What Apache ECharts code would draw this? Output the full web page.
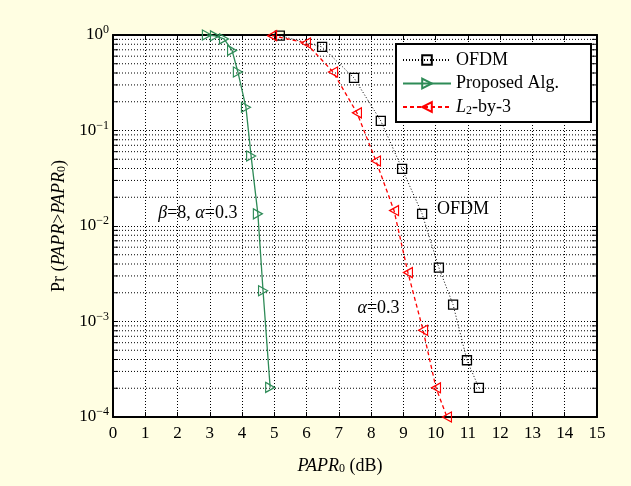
<!DOCTYPE html>
<html>
<head>
<meta charset="utf-8">
<script src="https://cdn.jsdelivr.net/npm/echarts@6/dist/echarts.min.js"></script>
<style>
  html, body { margin: 0; padding: 0; background: #fffee2; }
  #chart { width: 631px; height: 486px; }
</style>
</head>
<body>
<div id="chart"></div>
<script>
// CCDF of PAPR for plain OFDM, the proposed algorithm and the L2-by-3 scheme
const ofdmX = [5.17, 6.48, 7.47, 8.30, 8.96, 9.58, 10.10, 10.54, 10.97, 11.34];
const ofdmY = [0.985, 0.75, 0.355, 0.126, 0.0397, 0.0134, 0.00366, 0.0015, 0.000393, 0.000202];

const propX = [2.91, 3.16, 3.44, 3.69, 3.87, 4.12, 4.28, 4.49, 4.65, 4.87];
const propY = [1.0, 0.98, 0.91, 0.69, 0.41, 0.175, 0.054, 0.0134, 0.0021, 0.000204];

const l2X = [4.93, 5.98, 6.82, 7.56, 8.15, 8.71, 9.14, 9.61, 10.01, 10.35];
const l2Y = [0.985, 0.825, 0.41, 0.153, 0.048, 0.0145, 0.00325, 0.00081, 0.000202, 0.0001];

const seriesNames = ['OFDM', 'Proposed Alg.', 'L2-by-3'];

// axis ranges
const xMin = 0, xMax = 15, xStep = 1;
const yMin = 1e-4, yMax = 1;

// log-axis minor grid: 2..9 within every decade
const decades = [1e-4, 1e-3, 1e-2, 1e-1];
const mantissas = [2, 3, 4, 5, 6, 7, 8, 9];
const minorValues = [];
decades.forEach(d => mantissas.forEach(m => minorValues.push(m * d)));

// text annotations, anchored in data coordinates
const annotX = [2.63, 10.85, 8.23];
const annotY = [0.0137, 0.0148, 0.00136];
const annotText = [
  '{i|β}{r|=8, }{i|α}{r|=0.3}',
  '{r|OFDM}',
  '{i|α}{r|=0.3}'
];

const FONT = 'Liberation Serif, Times New Roman, serif';
const richText = {
  r: { fontFamily: FONT, fontSize: 18, color: '#000' },
  i: { fontFamily: FONT, fontSize: 18, fontStyle: 'italic', color: '#000' },
  sub: { fontFamily: FONT, fontSize: 12, color: '#000', verticalAlign: 'bottom', lineHeight: 16, padding: [6, 0, 0, 0] }
};

const zip = (xs, ys) => xs.map((x, i) => [x, ys[i]]);

const triRight = 'path://M0,0 L10,5 L0,10 Z';
const triLeft = 'path://M10,0 L0,5 L10,10 Z';

const chart = echarts.init(document.getElementById('chart'), null, { renderer: 'canvas' });

const gridLine = { show: true, lineStyle: { color: '#000', width: 1, type: [1, 2] } };

chart.setOption({
  backgroundColor: '#fffee2',
  animation: false,
  grid: {
    left: 113, top: 35, width: 484, height: 382,
    containLabel: false, outerBoundsMode: 'none',
    show: true, backgroundColor: '#fff', borderWidth: 0
  },
  legend: {
    show: true,
    orient: 'vertical',
    left: 396, top: 44,
    data: seriesNames,
    backgroundColor: '#fff',
    borderColor: '#000', borderWidth: 2, borderRadius: 0,
    padding: [6, 32, 5, 6],
    itemWidth: 48, itemHeight: 12, itemGap: 3.5,
    textStyle: { fontFamily: FONT, fontSize: 18, color: '#000', lineHeight: 20, rich: richText },
    formatter: name => name === 'L2-by-3' ? '{i|L}{sub|2}{r|-by-3}' : '{r|' + name + '}'
  },
  xAxis: [{
    type: 'value', min: xMin, max: xMax, interval: xStep,
    position: 'bottom',
    axisLine: { show: true, onZero: false, lineStyle: { color: '#000', width: 2 } },
    axisTick: { show: true, inside: true, length: 5, lineStyle: { color: '#000', width: 1 } },
    axisLabel: { show: true, margin: 8, fontFamily: FONT, fontSize: 17, color: '#000' },
    splitLine: gridLine,
    name: '{i|PAPR}{sub|0}{r| (dB)}',
    nameLocation: 'middle', nameGap: 40,
    nameTextStyle: { rich: richText, padding: [0, 30, 0, 0] }
  }, {
    type: 'value', min: xMin, max: xMax, interval: xStep,
    position: 'top',
    axisLine: { show: true, onZero: false, lineStyle: { color: '#000', width: 2 } },
    axisTick: { show: true, inside: true, length: 5, lineStyle: { color: '#000', width: 1 } },
    axisLabel: { show: false },
    splitLine: { show: false }
  }],
  yAxis: [{
    type: 'log', logBase: 10, min: yMin, max: yMax, splitNumber: 4,
    position: 'left',
    axisLine: { show: true, onZero: false, lineStyle: { color: '#000', width: 2 } },
    axisTick: { show: true, inside: true, length: 5, lineStyle: { color: '#000', width: 1 } },
    axisLabel: {
      show: true, margin: 4,
      formatter: v => {
        const e = Math.round(Math.log10(v));
        return '{b|10}{s|' + (e < 0 ? '\u2212' + (-e) : e) + '}';
      },
      rich: {
        b: { fontFamily: FONT, fontSize: 17, color: '#000', lineHeight: 22 },
        s: { fontFamily: FONT, fontSize: 12, color: '#000', verticalAlign: 'top', lineHeight: 12 }
      }
    },
    splitLine: gridLine,
    name: '{r|Pr (}{i|PAPR}{r|>}{i|PAPR}{sub|0}{r|)}',
    nameLocation: 'middle', nameGap: 39, nameRotate: 90,
    nameTextStyle: { rich: richText }
  }, {
    type: 'log', logBase: 10, min: yMin, max: yMax, splitNumber: 4,
    position: 'right',
    axisLine: { show: true, onZero: false, lineStyle: { color: '#000', width: 2 } },
    axisTick: { show: true, inside: true, length: 5, lineStyle: { color: '#000', width: 1 } },
    axisLabel: { show: false },
    splitLine: { show: false }
  }],
  series: [
    {
      // minor log grid lines with their inside tick marks
      type: 'custom',
      silent: true,
      z: 1,
      xAxisIndex: 0, yAxisIndex: 0,
      data: minorValues.map(v => [0, v]),
      renderItem: (params, api) => {
        const cs = params.coordSys;
        const y = api.coord([0, api.value(1)])[1];
        return {
          type: 'group',
          children: [
            { type: 'line', shape: { x1: cs.x, y1: y, x2: cs.x + cs.width, y2: y },
              style: { stroke: '#000', lineWidth: 1, lineDash: [1, 2] } },
            { type: 'line', shape: { x1: cs.x, y1: y, x2: cs.x + 5, y2: y },
              style: { stroke: '#000', lineWidth: 1 } },
            { type: 'line', shape: { x1: cs.x + cs.width - 5, y1: y, x2: cs.x + cs.width, y2: y },
              style: { stroke: '#000', lineWidth: 1 } }
          ]
        };
      }
    },
    {
      name: 'OFDM', type: 'line', z: 5, clip: false,
      data: zip(ofdmX, ofdmY),
      symbol: 'rect', symbolSize: 9, showAllSymbol: true,
      lineStyle: { color: '#000', width: 1, type: [1, 2] },
      itemStyle: { color: 'rgba(255,255,255,0)', borderColor: '#000', borderWidth: 1.3 }
    },
    {
      name: 'Proposed Alg.', type: 'line', z: 5, clip: false,
      data: zip(propX, propY),
      symbol: triRight, symbolSize: [9, 10], showAllSymbol: true,
      lineStyle: { color: '#2e8b57', width: 1.3, type: 'solid' },
      itemStyle: { color: 'rgba(255,255,255,0)', borderColor: '#2e8b57', borderWidth: 1.2 }
    },
    {
      name: 'L2-by-3', type: 'line', z: 5, clip: false,
      data: zip(l2X, l2Y),
      symbol: triLeft, symbolSize: [9, 10], showAllSymbol: true,
      lineStyle: { color: '#ff0000', width: 1.3, type: [4, 3] },
      itemStyle: { color: 'rgba(255,255,255,0)', borderColor: '#ff0000', borderWidth: 1.2 }
    }
  ]
});

// curve annotations, placed through the grid's own data-to-pixel mapping
chart.setOption({
  graphic: annotText.map((t, i) => {
    const p = chart.convertToPixel({ gridIndex: 0 }, [annotX[i], annotY[i]]);
    return {
      type: 'text', z: 10, silent: true,
      x: p[0], y: p[1],
      style: { text: t, rich: richText, align: 'center', verticalAlign: 'middle', fill: '#000' }
    };
  })
});
</script>
</body>
</html>
